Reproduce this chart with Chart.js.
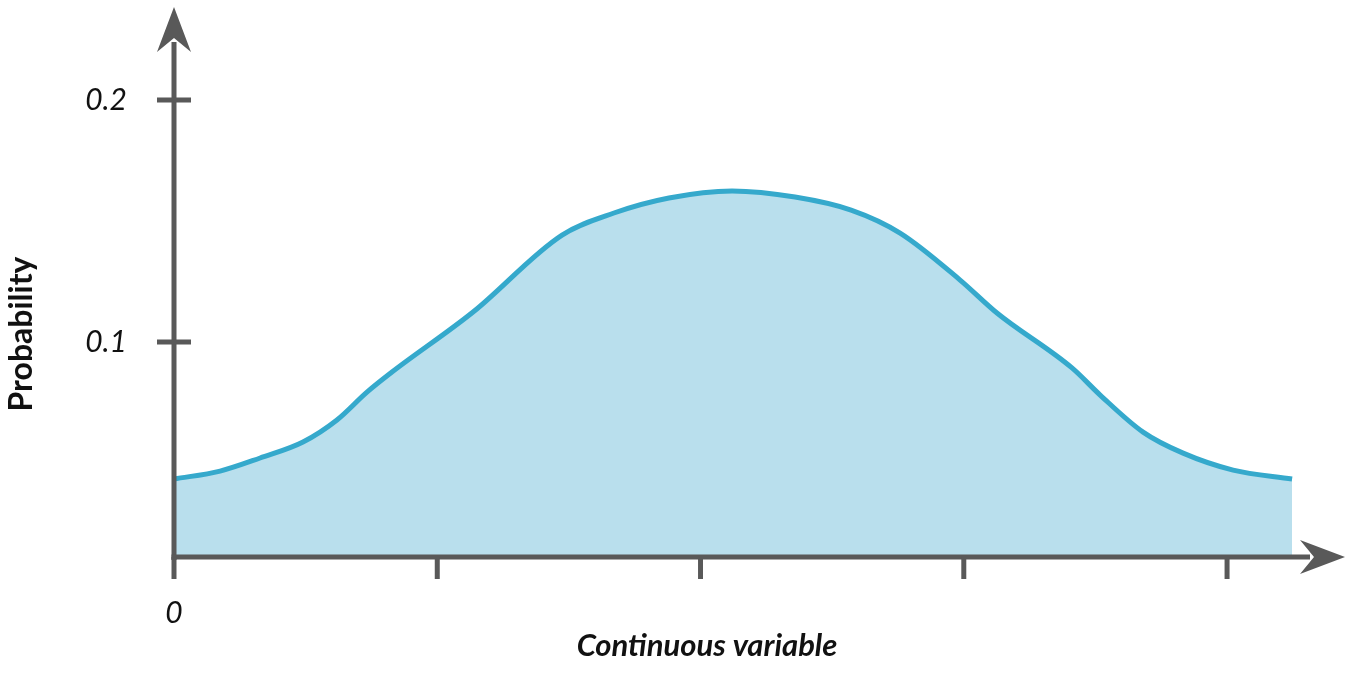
<!DOCTYPE html>
<html><head><meta charset="utf-8">
<script src="https://cdn.jsdelivr.net/npm/chart.js@4/dist/chart.umd.min.js"></script>
<style>html,body{margin:0;padding:0;background:#fff;overflow:hidden}#wrap{width:1350px;height:684px}</style>
</head><body><div id="wrap"><canvas id="c" width="1350" height="684"></canvas></div>
<script>
const xValues = [0, 0.175, 0.327, 0.490, 0.619, 0.733, 0.828, 1.136, 1.474, 1.671, 1.880, 2.120, 2.359, 2.572, 2.758, 2.986, 3.126, 3.411, 3.518, 3.681, 3.833, 4.023, 4.247];
const yValues = [0.0434, 0.0467, 0.0521, 0.0587, 0.0678, 0.0793, 0.0876, 0.1124, 0.1442, 0.1533, 0.1595, 0.1624, 0.1599, 0.1545, 0.1450, 0.1256, 0.1120, 0.0893, 0.0781, 0.0628, 0.0541, 0.0471, 0.0434];
const xTickValues = [0, 1, 2, 3, 4];
const xTickLabels = ['0', '', '', '', ''];
const yTickValues = [0.1, 0.2];
const yTickLabels = ['0.1', '0.2'];
const xTitle = 'Continuous variable';
const yTitle = 'Probability';

const AXIS = '#595959';
const decor = {
  id: 'decor',
  afterDatasetsDraw(chart) {
    const {ctx, chartArea: a, scales: {x, y}} = chart;
    ctx.save();
    ctx.strokeStyle = AXIS; ctx.fillStyle = AXIS; ctx.lineWidth = 5; ctx.lineCap = 'butt';
    ctx.beginPath(); ctx.moveTo(a.left, a.bottom + 3); ctx.lineTo(a.left, a.top + 35); ctx.stroke();
    ctx.beginPath(); ctx.moveTo(a.left - 2.5, a.bottom); ctx.lineTo(a.right - 35, a.bottom); ctx.stroke();
    xTickValues.forEach(v => { const px = x.getPixelForValue(v); ctx.beginPath(); ctx.moveTo(px, a.bottom); ctx.lineTo(px, a.bottom + 22); ctx.stroke(); });
    yTickValues.forEach(v => { const py = y.getPixelForValue(v); ctx.beginPath(); ctx.moveTo(a.left - 17, py); ctx.lineTo(a.left + 17, py); ctx.stroke(); });
    ctx.beginPath(); ctx.moveTo(a.left, a.top); ctx.lineTo(a.left + 17, a.top + 45); ctx.lineTo(a.left, a.top + 31); ctx.lineTo(a.left - 17, a.top + 45); ctx.closePath(); ctx.fill();
    ctx.beginPath(); ctx.moveTo(a.right, a.bottom); ctx.lineTo(a.right - 45, a.bottom - 17); ctx.lineTo(a.right - 31, a.bottom); ctx.lineTo(a.right - 45, a.bottom + 17); ctx.closePath(); ctx.fill();
    ctx.fillStyle = '#111';
    ctx.textAlign = 'center'; ctx.textBaseline = 'middle';
    ctx.font = 'italic bold 31px Lato';
    ctx.fillText(xTitle, a.left + 533, a.bottom + 89);
    ctx.translate(22, a.bottom - 223); ctx.rotate(-Math.PI / 2);
    ctx.font = 'bold 32px Lato';
    ctx.fillText(yTitle, 0, 0);
    ctx.restore();
  }
};

new Chart(document.getElementById('c'), {
  type: 'line',
  data: {
    datasets: [{
      data: xValues.map((v, i) => ({x: v, y: yValues[i]})),
      borderColor: '#35a9cc', backgroundColor: '#b9dfed', borderWidth: 5,
      fill: 'start', pointRadius: 0, cubicInterpolationMode: 'monotone'
    }]
  },
  options: {
    responsive: false, animation: false,
    layout: {padding: {left: 0, right: 5, top: 7, bottom: 0}},
    plugins: {legend: {display: false}, tooltip: {enabled: false}},
    scales: {
      x: {
        type: 'linear', min: 0, max: 4.448,
        afterBuildTicks: s => { s.ticks = xTickValues.map(v => ({value: v})); },
        afterFit: s => { s.height = 127; s.paddingLeft = 0; s.paddingRight = 0; },
        grid: {display: false, drawTicks: false}, border: {display: false},
        ticks: {padding: 38, autoSkip: false, maxRotation: 0, color: '#111',
          font: {family: 'Lato', size: 30, style: 'italic'},
          callback: (v, i) => xTickLabels[i]}
      },
      y: {
        type: 'linear', min: 0.0112, max: 0.2384,
        afterBuildTicks: s => { s.ticks = yTickValues.map(v => ({value: v})); },
        afterFit: s => { s.width = 174; s.paddingTop = 0; s.paddingBottom = 0; },
        grid: {display: false, drawTicks: false}, border: {display: false},
        ticks: {padding: 47, autoSkip: false, color: '#111',
          font: {family: 'Lato', size: 30, style: 'italic'},
          callback: (v, i) => yTickLabels[i]}
      }
    }
  },
  plugins: [decor]
});
</script></body></html>
